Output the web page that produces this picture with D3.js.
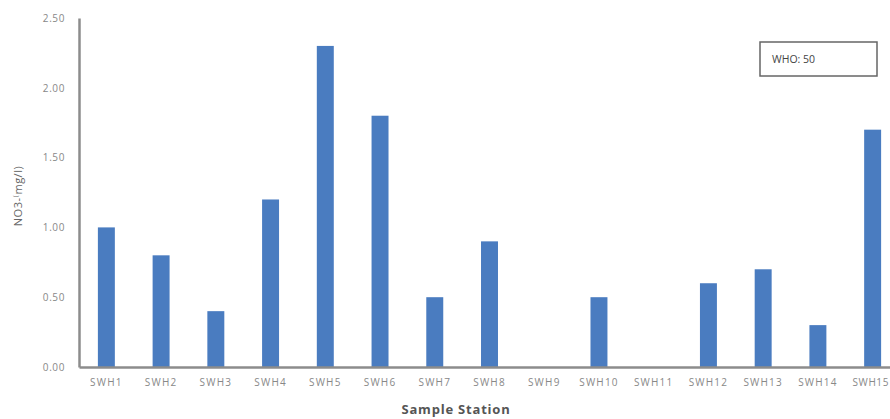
<!DOCTYPE html>
<html><head><meta charset="utf-8">
<script src="https://cdn.jsdelivr.net/npm/d3@7"></script>
<style>body{margin:0;background:#fff}svg{display:block}</style>
</head><body>
<svg id="c" width="890" height="419"></svg>
<script>
const stations = ["SWH1","SWH2","SWH3","SWH4","SWH5","SWH6","SWH7","SWH8","SWH9","SWH10","SWH11","SWH12","SWH13","SWH14","SWH15"];
const no3 = [1.0,0.8,0.4,1.2,2.3,1.8,0.5,0.9,0,0.5,0,0.6,0.7,0.3,1.7];
const yTicks = [0,0.5,1.0,1.5,2.0,2.5];
const legendText = "WHO: 50";

const svg = d3.select("#c");
const x = d3.scaleBand().domain(stations).range([79, 900]).paddingInner(0.69).paddingOuter(0.345);
const y = d3.scaleLinear().domain([0,2.5]).range([367,18]);

svg.selectAll("rect.bar").data(stations).enter().append("rect")
  .attr("class","bar")
  .attr("x", d=>x(d)).attr("width", x.bandwidth())
  .attr("y", (d,i)=>y(no3[i])).attr("height", (d,i)=>y(0)-y(no3[i]))
  .attr("fill","#4a7cc0");

const ya = svg.append("g").attr("transform","translate(79,0)")
  .call(d3.axisLeft(y).tickValues(yTicks).tickFormat(d3.format(".2f")).tickSize(0).tickPadding(14));
ya.select(".domain").attr("stroke","#8c8c8c").attr("stroke-width",2.5);
ya.selectAll("text").attr("font-family","Open Sans, sans-serif").attr("font-size",10).attr("letter-spacing",0.6).attr("fill","#888");

const xa = svg.append("g").attr("transform","translate(0,367)")
  .call(d3.axisBottom(x).tickSize(0).tickPadding(12));
xa.select(".domain").attr("stroke","#8c8c8c").attr("stroke-width",2.5);
xa.selectAll("text").attr("font-family","Open Sans, sans-serif").attr("font-size",10).attr("letter-spacing",1.2).attr("fill","#888");
// keep the last label inside the picture
xa.selectAll(".tick").filter(d => d === stations[stations.length-1]).select("text")
  .attr("text-anchor","end").attr("letter-spacing",0.6)
  .attr("x", 889 - (x(stations[stations.length-1]) + x.bandwidth()/2));

svg.append("text").attr("x",456).attr("y",414).attr("text-anchor","middle")
  .attr("font-family","Open Sans, sans-serif").attr("font-weight","bold").attr("font-size",13).attr("letter-spacing",0.8).attr("fill","#555")
  .text("Sample Station");

svg.append("text").attr("transform","translate(22,196) rotate(-90)").attr("text-anchor","middle")
  .attr("font-family","Open Sans, sans-serif").attr("font-size",11).attr("letter-spacing",0.5).attr("fill","#666")
  .text("NO3-⁽mg/l)");

svg.append("rect").attr("x",760).attr("y",42).attr("width",117).attr("height",34)
  .attr("fill","#fff").attr("stroke","#666").attr("stroke-width",1.5);
svg.append("text").attr("x",772).attr("y",63)
  .attr("font-family","Open Sans, sans-serif").attr("font-size",10.5).attr("fill","#444")
  .text(legendText);
</script>
</body></html>
